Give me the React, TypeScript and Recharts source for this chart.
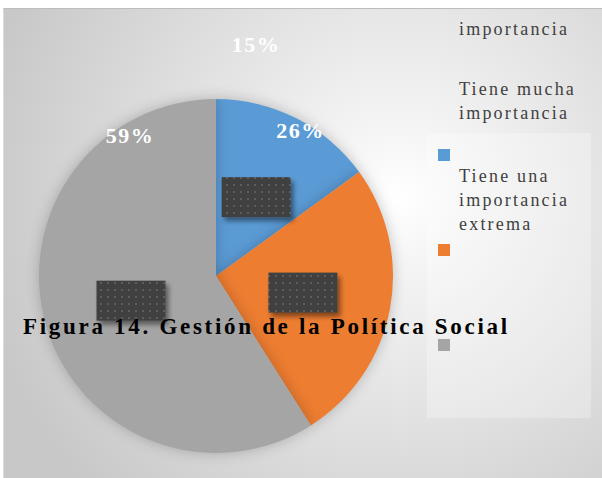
import { PieChart, Pie, Cell } from "recharts";

// slice values (%), clockwise from 12 o'clock
const categories = ["Tiene mucha importancia", "Tiene una importancia extrema", "importancia"];
const values = [15, 26, 59];
const colors = ["#5b9bd5", "#ed7d31", "#a5a5a5"];

// where each percentage text sits: clock angle (deg) and radius as a share of the pie radius
const labelAngle = [9.8, 30.1, -31.4];
const labelRadius = [1.327, 0.951, 0.933];

// legend text blocks (top px) and swatch tops, in slice order
const legendTextTop = [77, 164, 17];
const legendSwatchTop = [149, 244, 339];

const W = 602;
const H = 478;
const RAD = Math.PI / 180;
const serif = "'Liberation Serif', 'Times New Roman', serif";

const data = categories.map((name, i) => ({ name, value: values[i] }));

function SliceLabel(props: any) {
  const { cx, cy, midAngle, outerRadius, index } = props;
  const rb = outerRadius * 0.5;
  const bx = cx + rb * Math.cos(-midAngle * RAD);
  const by = cy + rb * Math.sin(-midAngle * RAD);
  const a = labelAngle[index] * RAD;
  const r = outerRadius * labelRadius[index];
  const tx = cx + r * Math.sin(a);
  const ty = cy - r * Math.cos(a);
  return (
    <g>
      <rect x={bx - 34.5} y={by - 20} width={69} height={40} fill="url(#dots)" filter="url(#boxShadow)" />
      <text
        x={tx}
        y={ty + 7.5}
        textAnchor="middle"
        fill="#ffffff"
        fontFamily={serif}
        fontWeight="bold"
        fontSize={22}
        letterSpacing={1.5}
      >
        {values[index]}%
      </text>
    </g>
  );
}

export default function App() {
  return (
    <div style={{ position: "absolute", left: 0, top: 0, width: W, height: H, overflow: "hidden", background: "#ffffff" }}>
      <style>{`.pieShade .recharts-pie-sector { filter: drop-shadow(0 0 7px rgba(0,0,0,0.22)); }`}</style>
      <div
        style={{
          position: "absolute",
          left: 3,
          top: 8,
          width: W - 3,
          height: H - 8,
          borderTop: "1px solid #bdbdbd",
          borderLeft: "1px solid #dcdcdc",
          boxSizing: "border-box",
          background: "radial-gradient(circle at 66% 40%, #ffffff 0%, #f5f5f5 14%, #e4e4e4 42%, #c8c8c8 88%)",
        }}
      />
      <div
        style={{
          position: "absolute",
          left: 427,
          top: 133,
          width: 164,
          height: 285,
          background: "rgba(255,255,255,0.28)",
        }}
      />
      <div style={{ position: "absolute", left: 0, top: 0 }}>
        <PieChart width={W} height={H} margin={{ top: 0, right: 0, bottom: 0, left: 0 }}>
          <defs>
            <pattern id="dots" width={7} height={7} patternUnits="userSpaceOnUse">
              <rect width={7} height={7} fill="#404040" />
              <rect x={2} y={2} width={2} height={2} fill="#5c5c5c" />
            </pattern>
            <filter id="boxShadow" x="-20%" y="-20%" width="150%" height="160%">
              <feDropShadow dx={3} dy={4} stdDeviation={2.5} floodColor="#000" floodOpacity={0.45} />
            </filter>
          </defs>
          <Pie
            className="pieShade"
            data={data}
            dataKey="value"
            nameKey="name"
            cx={216}
            cy={276}
            outerRadius={177}
            startAngle={90}
            endAngle={-270}
            stroke="none"
            label={SliceLabel}
            labelLine={false}
            isAnimationActive={false}
          >
            {data.map((d, i) => (
              <Cell key={d.name} fill={colors[i]} />
            ))}
          </Pie>
        </PieChart>
      </div>
      {categories.map((name, i) => (
        <div key={name}>
          <div
            style={{
              position: "absolute",
              left: 459,
              top: legendTextTop[i],
              width: 128,
              fontFamily: serif,
              fontSize: 18,
              lineHeight: "24px",
              letterSpacing: 2.2,
              color: "#404040",
            }}
          >
            {name}
          </div>
          <div
            style={{
              position: "absolute",
              left: 438,
              top: legendSwatchTop[i],
              width: 12,
              height: 12,
              background: colors[i],
            }}
          />
        </div>
      ))}
      <div
        style={{
          position: "absolute",
          left: 23,
          top: 315,
          fontFamily: serif,
          fontWeight: "bold",
          fontSize: 23,
          lineHeight: "23px",
          letterSpacing: 2.7,
          color: "#000000",
          whiteSpace: "nowrap",
        }}
      >
        Figura 14. Gestión de la Política Social
      </div>
    </div>
  );
}
